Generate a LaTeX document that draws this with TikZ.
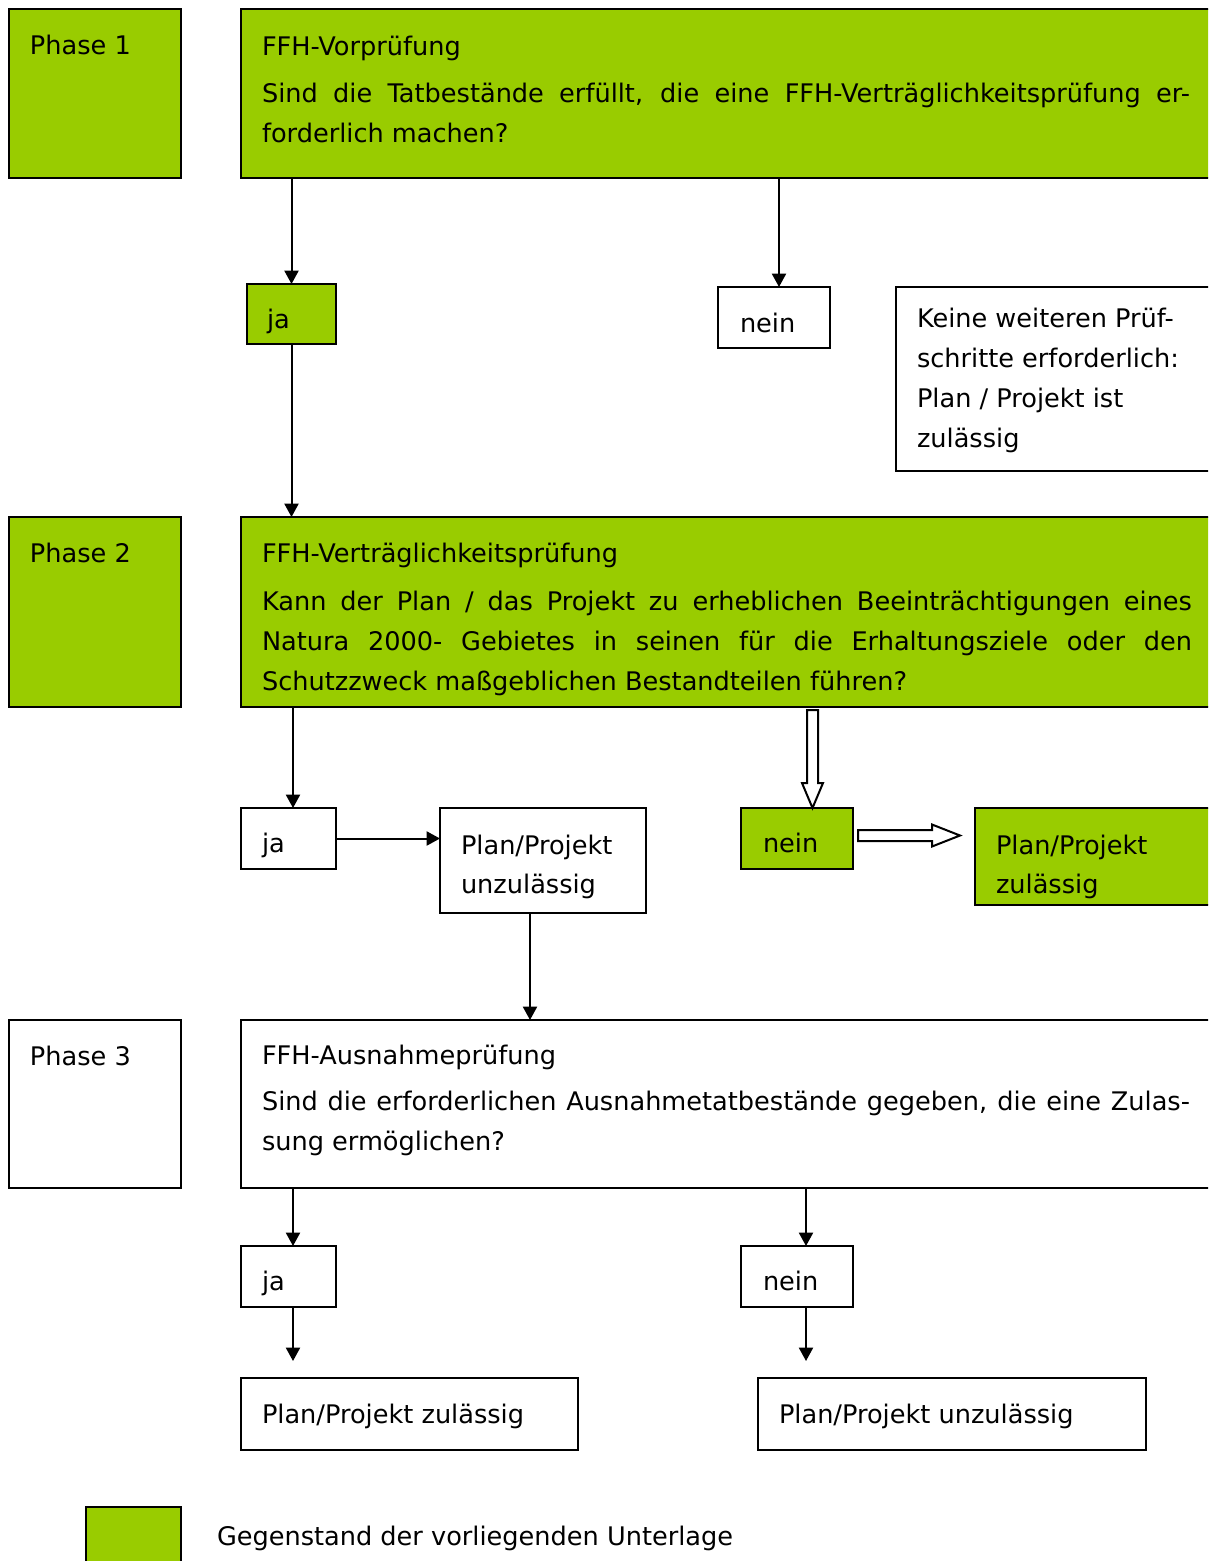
\documentclass[tikz,border=0pt]{standalone}
\usepackage{fontspec}
\setmainfont{DejaVu Sans}
\usetikzlibrary{arrows.meta,calc,fit}
\definecolor{ffhgreen}{RGB}{153,204,0}
\newdimen\pxu \pxu=0.75pt
\tikzset{
  box/.style={draw, line width=1.5pt, inner sep=0pt, outer sep=0pt},
  gbox/.style={box, fill=ffhgreen},
  txt/.style={anchor=base west, inner sep=0pt, outer sep=0pt, font=\fontsize{19.2}{30}\selectfont},
  arr/.style={line width=1.5pt, -{Triangle[length=10pt,width=10.5pt]}},
  hollow/.style={draw, line width=1.5pt, fill=white, line join=miter},
}
\begin{document}
\begin{tikzpicture}[x=0.75pt,y=-0.75pt]
\useasboundingbox (0,0) rectangle (1208,1561);
\clip (0,0) rectangle (1208,1561);
\fill[white] (0,0) rectangle (1208,1561);

% ---------- Phase 1
\node[gbox, fit={(9,9) (181,178)}] (ph1) {};
\node[gbox, fit={(241,9) (1220,178)}] (q1) {};
\node[txt] (ph1t) at (30,54) {Phase 1};
\node[txt] (q1h) at (262,55) {FFH-Vorprüfung};
\node[txt] (q1b) at (262,102) {\parbox[t]{928\pxu}{\baselineskip=40\pxu
  \makebox[928\pxu][s]{Sind die Tatbestände erfüllt, die eine FFH-Verträglichkeitsprüfung er-}\\
  forderlich machen?}};

\node[gbox, fit={(247,284) (336,344)}] (ja1) {};
\node[txt] (ja1t) at (267,328) {ja};
\node[box, fit={(718,287) (830,348)}] (nein1) {};
\node[txt] (nein1t) at (740,332) {nein};
\node[box, fit={(896,287) (1220,471)}] (keine) {};
\node[txt] (keinet) at (917,327) {\parbox[t]{290\pxu}{\baselineskip=40\pxu
  Keine weiteren Prüf-\\schritte erforderlich:\\Plan / Projekt ist\\zulässig}};

\draw[arr] (ja1.north |- q1.south) -- (ja1.north);
\coordinate (n1) at ($(nein1.north)+(5,0)$);
\draw[arr] (n1 |- q1.south) -- (n1);

% ---------- Phase 2
\node[gbox, fit={(9,517) (181,707)}] (ph2) {};
\node[gbox, fit={(241,517) (1220,707)}] (q2) {};
\node[txt] (ph2t) at (30,562) {Phase 2};
\node[txt] (q2h) at (262,562) {FFH-Verträglichkeitsprüfung};
\node[txt] (q2b) at (262,610) {\parbox[t]{930\pxu}{\baselineskip=40\pxu
  \makebox[930\pxu][s]{Kann der Plan / das Projekt zu erheblichen Beeinträchtigungen eines}\\
  \makebox[930\pxu][s]{Natura 2000- Gebietes in seinen für die Erhaltungsziele oder den}\\
  Schutzzweck maßgeblichen Bestandteilen führen?}};

\draw[arr] (ja1.south) -- (ja1.south |- q2.north);

\node[box, fit={(241,808) (336,869)}] (ja2) {};
\node[txt] (ja2t) at (262,852) {ja};
\node[box, fit={(440,808) (646,913)}] (unz2) {};
\node[txt] (unz2t) at (461,854) {\parbox[t]{180\pxu}{\baselineskip=39\pxu
  Plan/Projekt\\unzulässig}};
\node[gbox, fit={(741,808) (853,869)}] (nein2) {};
\node[txt] (nein2t) at (763,852) {nein};
\node[gbox, fit={(975,808) (1220,905)}] (zul2) {};
\node[txt] (zul2t) at (996,854) {\parbox[t]{200\pxu}{\baselineskip=39\pxu
  Plan/Projekt\\zulässig}};

\coordinate (a2) at ($(ja2.north)+(4.5,0)$);
\draw[arr] (a2 |- q2.south) -- (a2);
\draw[arr] (ja2.east) -- (ja2.east -| unz2.west);

% hollow arrows
\coordinate (hd) at ($(nein2.north)+(15.5,0)$);
\draw[hollow, shift={(hd)}] (-5.5,-98) -- (5.5,-98) -- (5.5,-25) -- (10.5,-25) -- (0,0)
  -- (-10.5,-25) -- (-5.5,-25) -- cycle;
\coordinate (ht) at ($(zul2.west)+(-15,-21)$);
\draw[hollow, shift={(ht)}] (-102,-5.5) -- (-28,-5.5) -- (-28,-11) -- (0,0)
  -- (-28,11) -- (-28,5.5) -- (-102,5.5) -- cycle;

% ---------- Phase 3
\node[box, fit={(9,1020) (181,1188)}] (ph3) {};
\node[box, fit={(241,1020) (1220,1188)}] (q3) {};
\node[txt] (ph3t) at (30,1065) {Phase 3};
\node[txt] (q3h) at (262,1064) {FFH-Ausnahmeprüfung};
\node[txt] (q3b) at (262,1110) {\parbox[t]{928\pxu}{\baselineskip=40\pxu
  \makebox[928\pxu][s]{Sind die erforderlichen Ausnahmetatbestände gegeben, die eine Zulas-}\\
  sung ermöglichen?}};

\coordinate (a3) at ($(unz2.south)+(-13,0)$);
\draw[arr] (a3) -- (a3 |- q3.north);

\node[box, fit={(241,1246) (336,1307)}] (ja3) {};
\node[txt] (ja3t) at (262,1290) {ja};
\node[box, fit={(741,1246) (853,1307)}] (nein3) {};
\node[txt] (nein3t) at (763,1290) {nein};

\coordinate (b3) at ($(ja3.north)+(4.5,0)$);
\draw[arr] (b3 |- q3.south) -- (b3);
\coordinate (c3) at ($(nein3.north)+(9,0)$);
\draw[arr] (c3 |- q3.south) -- (c3);

\coordinate (jaend) at (293,1361);
\coordinate (neinend) at (806,1361);
\draw[arr] (jaend |- ja3.south) -- (jaend);
\draw[arr] (neinend |- nein3.south) -- (neinend);

\node[box, fit={(241,1378) (578,1450)}] (zul3) {};
\node[txt] (zul3t) at (262,1423) {Plan/Projekt zulässig};
\node[box, fit={(758,1378) (1146,1450)}] (unz3) {};
\node[txt] (unz3t) at (779,1423) {Plan/Projekt unzulässig};

% ---------- Legend
\node[gbox, fit={(86,1507) (181,1575)}] (leg) {};
\node[txt] (legt) at (217,1545) {Gegenstand der vorliegenden Unterlage};
\end{tikzpicture}
\end{document}
